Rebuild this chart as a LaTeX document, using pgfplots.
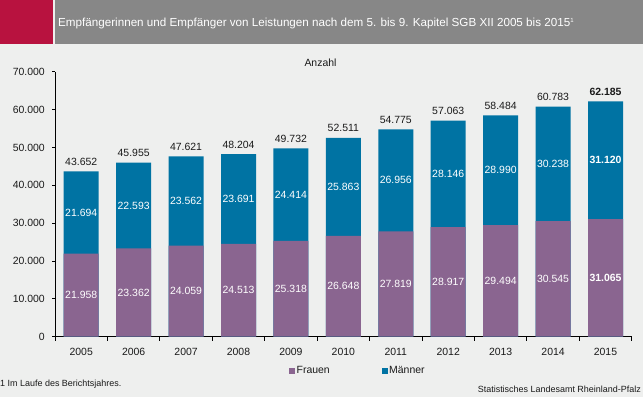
\documentclass[border=0pt]{standalone}
\usepackage{fontspec}
\setmainfont{Liberation Sans}
\usepackage{pgfplots}
\pgfplotsset{compat=1.18}
\usepackage{pgfplotstable}
\definecolor{bg}{HTML}{EEEFEE}
\definecolor{hdr}{HTML}{878787}
\definecolor{rlp}{HTML}{B8123F}
\definecolor{frauen}{HTML}{8A6590}
\definecolor{maenner}{HTML}{0073A3}
\definecolor{txt}{HTML}{1A1A1A}

\pgfplotstableread{
x f m t
0 21958 21694 43652
1 23362 22593 45955
2 24059 23562 47621
3 24513 23691 48204
4 25318 24414 49732
5 26648 25863 52511
6 27819 26956 54775
7 28917 28146 57063
8 29494 28990 58484
9 30545 30238 60783
10 31065 31120 62185
}\data

\newcommand{\lab}{\fontsize{10.5}{12}\selectfont}
\pgfplotsset{
  inlab/.style={draw=none, mark=none, forget plot, nodes near coords, point meta=explicit,
    nodes near coords style={anchor=center, inner sep=0pt, text=white, font=\lab}},
  toplab/.style={draw=none, mark=none, forget plot, nodes near coords, point meta=explicit,
    nodes near coords style={anchor=base, inner sep=0pt, yshift=6bp, text=txt, font=\lab}},
  normal/.style={restrict x to domain=0:9},
  last/.style={restrict x to domain=10:10, nodes near coords style={font=\lab\bfseries}},
}
\begin{document}
\begin{tikzpicture}[x=1bp,y=1bp]
\useasboundingbox (0,0) rectangle (643,397);
\fill[bg] (0,0) rectangle (643,397);
\fill[rlp] (0,353) rectangle (53,397);
\fill[hdr] (55,353) rectangle (643,397);
\node[anchor=west, text=white, inner sep=0pt, font=\fontsize{11.7}{13}\selectfont] at (58,374) {Empfängerinnen und Empfänger von Leistungen nach dem 5. bis 9. Kapitel SGB XII 2005 bis 2015\raisebox{3.5bp}{\fontsize{6}{7}\selectfont 1}};
\node[inner sep=0pt, text=txt, font=\lab] at (320.5,334.3) {Anzahl};
\node[anchor=west, inner sep=0pt, text=txt, font=\fontsize{9}{10}\selectfont] at (0,13) {1 Im Laufe des Berichtsjahres.};
\node[anchor=east, inner sep=0pt, text=txt, font=\fontsize{9}{10}\selectfont] at (641,8) {Statistisches Landesamt Rheinland-Pfalz};
\begin{axis}[
  at={(55bp,60.3bp)}, anchor=south west,
  scale only axis, width=576.7bp, height=265bp,
  xmin=-0.5, xmax=10.5, ymin=0, ymax=70000,
  clip=false,
  axis lines*=left,
  axis line style={black, line width=0.75bp},
  tick align=outside,
  xtick={0,...,10},
  xticklabels={2005,2006,2007,2008,2009,2010,2011,2012,2013,2014,2015},
  major x tick style={draw=none},
  minor xtick={-0.5,0.5,...,10.5},
  minor tick length=4bp,
  major tick length=3bp,
  tick style={black, line width=0.75bp},
  ytick={0,10000,...,70000},
  scaled y ticks=false,
  /pgf/number format/.cd, 1000 sep={.}, assume math mode=true, /pgfplots/.cd,
  ticklabel style={font=\lab, text=txt},
  yticklabel style={inner sep=0pt, xshift=-7bp},
  xticklabel style={inner sep=0pt, yshift=-8bp},
  legend style={at={(0.4058,-0.1294)}, anchor=west, draw=none, fill=none,
    legend columns=2, font=\lab, text=txt, inner sep=0pt,
    nodes={inner sep=2bp},
    /tikz/every even column/.append style={column sep=50bp}},
  legend cell align=left,
]
\addplot[ybar, bar width=35bp, bar shift=0pt, fill=maenner, draw=none, forget plot] table[x=x, y=t] {\data};
\addplot[ybar, bar width=35bp, bar shift=0pt, fill=frauen, draw=none, forget plot] table[x=x, y=f] {\data};
% labels Frauen
\addplot[inlab, normal] table[x=x, y expr=\thisrow{f}/2, meta=f] {\data};
\addplot[inlab, last] table[x=x, y expr=\thisrow{f}/2, meta=f] {\data};
% labels Maenner
\addplot[inlab, normal] table[x=x, y expr=\thisrow{f}+\thisrow{m}/2, meta=m] {\data};
\addplot[inlab, last] table[x=x, y expr=\thisrow{f}+\thisrow{m}/2, meta=m] {\data};
% totals
\addplot[toplab, normal] table[x=x, y=t, meta=t] {\data};
\addplot[toplab, last] table[x=x, y=t, meta=t] {\data};
\addlegendimage{legend image code/.code={\fill[frauen] (0bp,-2.5bp) rectangle (5bp,2.5bp);}}
\addlegendentry{Frauen}
\addlegendimage{legend image code/.code={\fill[maenner] (0bp,-2.5bp) rectangle (5bp,2.5bp);}}
\addlegendentry{Männer}
\end{axis}
\end{tikzpicture}
\end{document}
